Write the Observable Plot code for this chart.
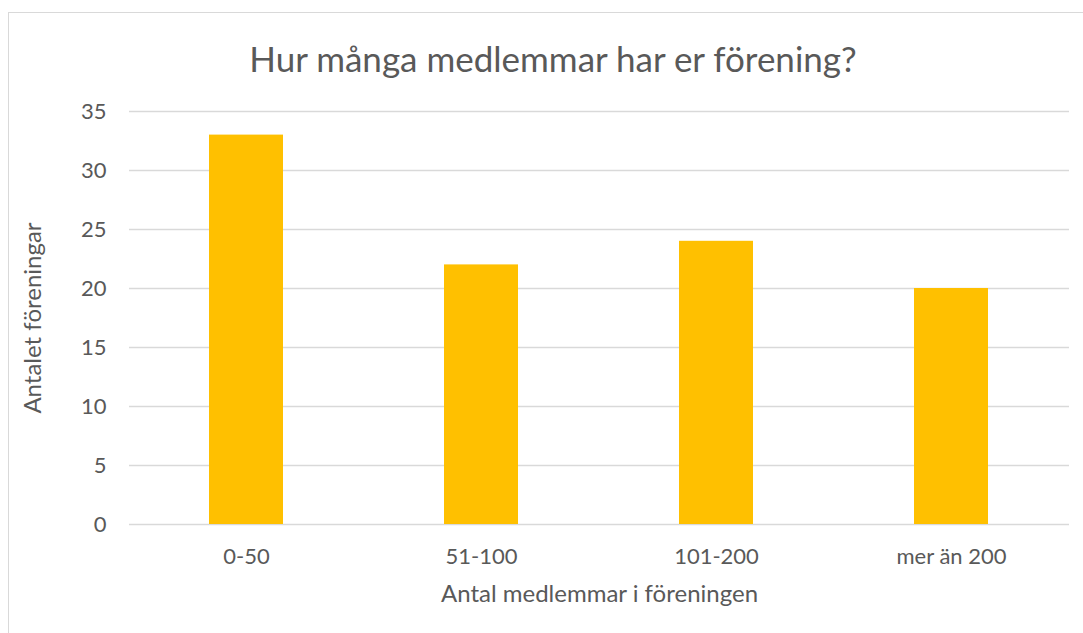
<!DOCTYPE html>
<html>
<head>
<meta charset="utf-8">
<script src="https://cdn.jsdelivr.net/npm/d3@7"></script>
<script src="https://cdn.jsdelivr.net/npm/@observablehq/plot@0.6"></script>
<style>
  html, body { margin: 0; padding: 0; background: #fff; overflow: hidden; }
  body { width: 1083px; height: 633px; position: relative; font-family: Lato, "Open Sans", sans-serif; }
  #frame { position: absolute; left: 8px; top: 12px; width: 1100px; height: 640px; border: 1px solid #d9d9d9; box-sizing: border-box; }
  #title { position: absolute; left: 8px; width: 1090px; top: 34px; text-align: center; font-size: 35px; color: #595959; line-height: 48px; }
  #chart { position: absolute; left: 0; top: 90px; }
</style>
</head>
<body>
<div id="frame"></div>
<div id="title">Hur många medlemmar har er förening?</div>
<div id="chart"></div>
<script>
const categories = ["0-50", "51-100", "101-200", "mer än 200"];
const counts = [33, 22, 24, 20];
const yTicks = [0, 5, 10, 15, 20, 25, 30, 35];
const xTitle = "Antal medlemmar i föreningen";
const yTitle = "Antalet föreningar";

const data = categories.map((c, i) => ({category: c, value: counts[i]}));

const chart = Plot.plot({
  width: 1083,
  height: 543,
  marginLeft: 129,
  marginRight: 14,
  marginTop: 21,
  marginBottom: 109,
  style: {fontFamily: "Lato, 'Open Sans', sans-serif", fontSize: "22px", color: "#595959", background: "transparent"},
  x: {domain: categories, paddingInner: 0.685, paddingOuter: 0.3425, align: 0.5},
  y: {domain: [0, 35]},
  marks: [
    Plot.gridY(yTicks, {stroke: "#d9d9d9", strokeOpacity: 1, strokeWidth: 1.3}),
    Plot.barY(data, {x: "category", y: "value", fill: "#FFC000"}),
    Plot.axisY(yTicks, {tickSize: 0, tickPadding: 23, label: null, fontSize: 22}),
    Plot.axisX({tickSize: 0, tickPadding: 24, label: null, fontSize: 22}),
    Plot.text([yTitle], {frameAnchor: "left", rotate: -90, dx: -96, fontSize: 24, fill: "#595959", textAnchor: "middle"}),
    Plot.text([xTitle], {frameAnchor: "bottom", dy: 77, fontSize: 24, fill: "#595959", textAnchor: "middle"})
  ]
});
document.getElementById("chart").appendChild(chart);
</script>
</body>
</html>
